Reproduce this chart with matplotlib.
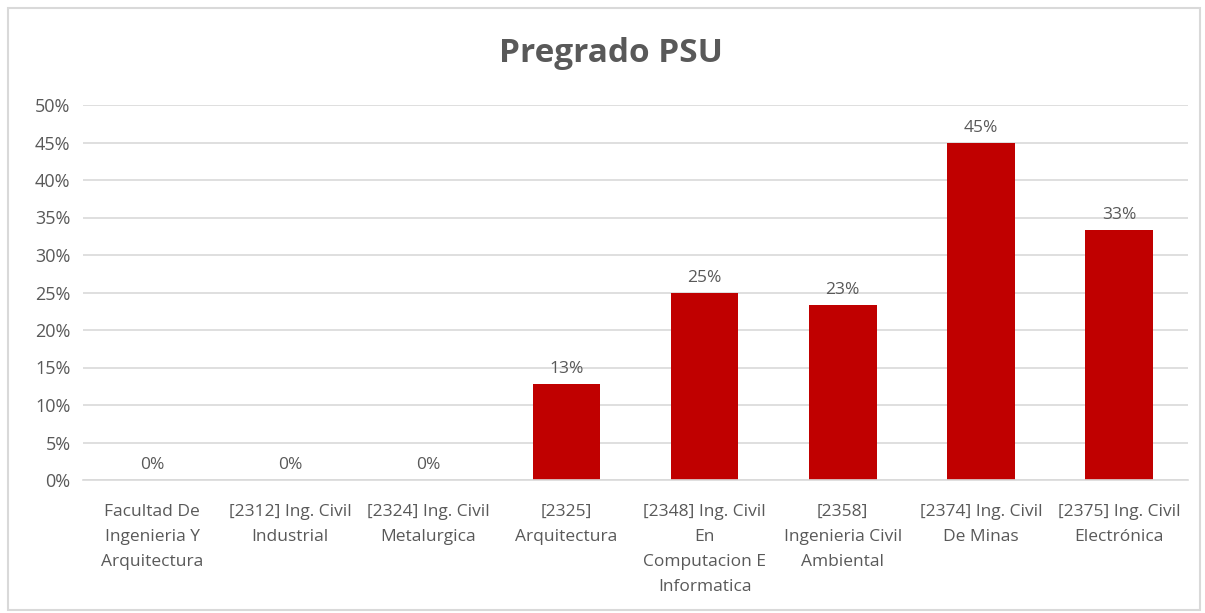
import matplotlib.pyplot as plt
from matplotlib.patches import Rectangle
from matplotlib.ticker import PercentFormatter

categories = [
    "Facultad De\nIngenieria Y\nArquitectura",
    "[2312] Ing. Civil\nIndustrial",
    "[2324] Ing. Civil\nMetalurgica",
    "[2325]\nArquitectura",
    "[2348] Ing. Civil\nEn\nComputacion E\nInformatica",
    "[2358]\nIngenieria Civil\nAmbiental",
    "[2374] Ing. Civil\nDe Minas",
    "[2375] Ing. Civil\nElectrónica",
]
values = [0.0, 0.0, 0.0, 0.128, 0.25, 0.233, 0.45, 0.333]
value_labels = ["0%", "0%", "0%", "13%", "25%", "23%", "45%", "33%"]

TEXT = "#595959"
GRID = "#d9d9d9"
RED = "#c00000"

plt.rcParams["font.family"] = ["Open Sans", "DejaVu Sans"]

fig = plt.figure(figsize=(12.05, 6.13), dpi=100)
fig.patches.append(Rectangle((8 / 1205, 3 / 613), 1192 / 1205, 602 / 613,
                             transform=fig.transFigure, fill=False,
                             edgecolor=GRID, linewidth=1.5))
ax = fig.add_axes([83 / 1205, 1 - 480 / 613, 1105 / 1205, 375 / 613])

x = range(len(categories))
ax.bar(x, values, width=0.49, color=RED, zorder=2)
for xi, v, lab in zip(x, values, value_labels):
    ax.annotate(lab, (xi, v), xytext=(0, 5), textcoords="offset points",
                ha="center", va="bottom", fontsize=12.5, color=TEXT)

ax.set_xlim(-0.5, len(categories) - 0.5)
ax.set_ylim(0, 0.5)
ax.set_yticks([i * 0.05 for i in range(11)])
ax.yaxis.set_major_formatter(PercentFormatter(1.0, decimals=0))
ax.set_xticks(list(x))
ax.set_xticklabels(categories, fontsize=12.5, color=TEXT, linespacing=1.75)
ax.tick_params(axis="y", labelsize=13, labelcolor=TEXT, length=0, pad=9)
ax.tick_params(axis="x", length=0, pad=17)
ax.grid(axis="y", color=GRID, linewidth=1.2, zorder=0)
for s in ["top", "right", "left"]:
    ax.spines[s].set_visible(False)
ax.spines["bottom"].set_color(GRID)
ax.spines["bottom"].set_linewidth(1.2)

fig.text(0.507, 1 - 54 / 613, "Pregrado PSU", ha="center", va="center",
         fontsize=24, fontweight="bold", color=TEXT)

fig.savefig("out.png", dpi=100)
